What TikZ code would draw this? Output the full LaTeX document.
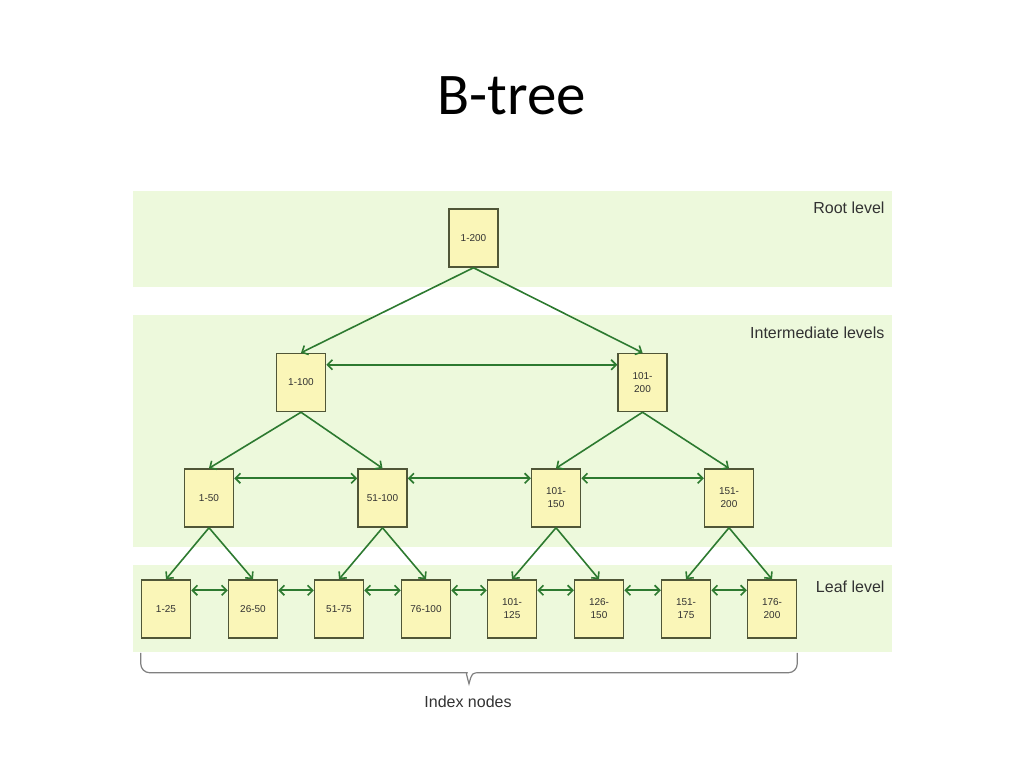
\documentclass[tikz,border=0pt]{standalone}
\usepackage{fontspec}
\setmainfont{Liberation Sans}
\newfontfamily\titlefont{Carlito}
\usepackage{tikz}
\usetikzlibrary{arrows.meta}
\usetikzlibrary{calc}
\definecolor{bandgreen}{RGB}{237,249,220}
\definecolor{boxyellow}{RGB}{250,246,184}
\definecolor{boxedge}{RGB}{80,86,55}
\definecolor{linkgreen}{RGB}{45,122,48}
\definecolor{labelgrey}{RGB}{50,50,50}
\tikzset{>={Straight Barb[length=5pt,width=10pt]}}
\tikzset{
  levelband/.style={fill=bandgreen, draw=none},
  idxbox/.style={draw=boxedge, fill=boxyellow, line width=1.5pt, minimum width=49pt,
    minimum height=58pt, inner sep=0pt, align=center, text=labelgrey,
    font=\fontsize{10}{13}\selectfont},
  treeedge/.style={->, linkgreen, line width=1.6pt},
  siblink/.style={<->, linkgreen, line width=1.6pt},
  levellabel/.style={anchor=base east, text=labelgrey, font=\fontsize{16}{19}\selectfont},
  bracestyle/.style={draw=gray, line width=1.2pt}
}

\begin{document}
\begin{tikzpicture}[x=1pt, y=-1pt]
        \useasboundingbox (0,0) rectangle (1024,768);
        % Title
        \node[anchor=base] (title) at (512,114) {\titlefont\fontsize{59}{70}\selectfont B-tree};

        % Bands
        \fill[levelband] (133,191) rectangle (892,287);
        \fill[levelband] (133,315) rectangle (892,547);
        \fill[levelband] (133,565) rectangle (892,652);
        \node[levellabel] (rootlbl) at (888,213) {Root level};
        \node[levellabel] (midlbl) at (888,338) {Intermediate levels};
        \node[levellabel] (leaflbl) at (888,592) {Leaf level};

        % Nodes
        \node[idxbox] (r) at (473.5,238) {1-200};
        \node[idxbox] (i1) at (301,382.5) {1-100};
        \node[idxbox] (i2) at (642.5,382.5) {101-\\200};
        \node[idxbox] (m1) at (209,498) {1-50};
        \node[idxbox] (m2) at (382.5,498) {51-100};
        \node[idxbox] (m3) at (556,498) {101-\\150};
        \node[idxbox] (m4) at (729,498) {151-\\200};
        \node[idxbox] (l1) at (166,609) {1-25};
        \node[idxbox] (l2) at (253,609) {26-50};
        \node[idxbox] (l3) at (339,609) {51-75};
        \node[idxbox] (l4) at (426,609) {76-100};
        \node[idxbox] (l5) at (512,609) {101-\\125};
        \node[idxbox] (l6) at (599,609) {126-\\150};
        \node[idxbox] (l7) at (686,609) {151-\\175};
        \node[idxbox] (l8) at (772,609) {176-\\200};

        % Parent to child
        \draw[treeedge] (r.south) -- (i1.north);
        \draw[treeedge] (r.south) -- (i2.north);
        \draw[treeedge] (i1.south) -- (m1.north);
        \draw[treeedge] (i1.south) -- (m2.north);
        \draw[treeedge] (i2.south) -- (m3.north);
        \draw[treeedge] (i2.south) -- (m4.north);
        \draw[treeedge] (m1.south) -- (l1.north);
        \draw[treeedge] (m1.south) -- (l2.north);
        \draw[treeedge] (m2.south) -- (l3.north);
        \draw[treeedge] (m2.south) -- (l4.north);
        \draw[treeedge] (m3.south) -- (l5.north);
        \draw[treeedge] (m3.south) -- (l6.north);
        \draw[treeedge] (m4.south) -- (l7.north);
        \draw[treeedge] (m4.south) -- (l8.north);

        % Siblings
        \draw[siblink] ([yshift=-12pt]i1.north east) -- ([yshift=-12pt]i2.north west);
        \draw[siblink] ([yshift=-10pt]m1.north east) -- ([yshift=-10pt]m2.north west);
        \draw[siblink] ([yshift=-10pt]m2.north east) -- ([yshift=-10pt]m3.north west);
        \draw[siblink] ([yshift=-10pt]m3.north east) -- ([yshift=-10pt]m4.north west);
        \draw[siblink] ([yshift=-11pt]l1.north east) -- ([yshift=-11pt]l2.north west);
        \draw[siblink] ([yshift=-11pt]l2.north east) -- ([yshift=-11pt]l3.north west);
        \draw[siblink] ([yshift=-11pt]l3.north east) -- ([yshift=-11pt]l4.north west);
        \draw[siblink] ([yshift=-11pt]l4.north east) -- ([yshift=-11pt]l5.north west);
        \draw[siblink] ([yshift=-11pt]l5.north east) -- ([yshift=-11pt]l6.north west);
        \draw[siblink] ([yshift=-11pt]l6.north east) -- ([yshift=-11pt]l7.north west);
        \draw[siblink] ([yshift=-11pt]l7.north east) -- ([yshift=-11pt]l8.north west);

        % Brace
        \coordinate (bracel) at ([yshift=-14pt]l1.south west);
        \coordinate (bracer) at ([yshift=-14pt]l8.south east);
        \coordinate (tip) at ($(bracel)!0.5!(bracer)+(0,31)$);
        \draw[bracestyle, rounded corners=9pt] (bracel) |- ($(tip)+(-11,-11)$) [sharp corners]
          .. controls ($(tip)+(-3,-11)$) .. (tip)
          .. controls ($(tip)+(3,-11)$) .. ($(tip)+(11,-11)$) [rounded corners=9pt] -| (bracer);
        \node[anchor=base, text=labelgrey, font=\fontsize{16}{19}\selectfont] (idxlbl) at (468,707) {Index nodes};
      \end{tikzpicture}
\end{document}
